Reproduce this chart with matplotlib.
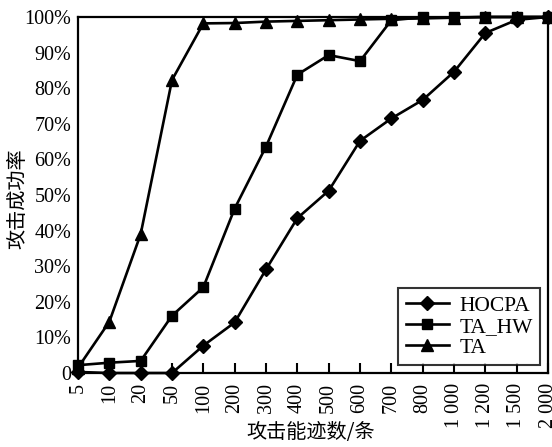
import matplotlib
matplotlib.use('Agg')
import matplotlib.pyplot as plt
from matplotlib.ticker import FuncFormatter

plt.rcParams['font.family'] = ['Liberation Serif', 'Noto Sans CJK SC']

traces = ['5', '10', '20', '50', '100', '200', '300', '400', '500', '600',
          '700', '800', '1 000', '1 200', '1 500', '2 000']
hocpa = [0.3, 0, 0, 0, 7.7, 14.2, 29.1, 43.5, 51.2, 65.2, 71.5, 76.7,
         84.6, 95.5, 99.2, 100]
ta_hw = [2.2, 2.9, 3.4, 16.1, 24.1, 46.2, 63.6, 83.8, 89.3, 87.6, 99.1,
         99.9, 99.9, 100, 100, 100]
ta = [1.5, 14.4, 39.0, 82.3, 98.2, 98.3, 98.7, 98.9, 99.1, 99.3, 99.5,
      99.6, 99.8, 100, 100, 100]

fig = plt.figure(figsize=(5.52, 4.47), dpi=100)
ax = fig.add_axes([0.1413, 0.1655, 0.8515, 0.7965])

x = range(len(traces))
ax.plot(x, hocpa, '-D', color='black', lw=1.9, ms=7, label='HOCPA', clip_on=False)
ax.plot(x, ta_hw, '-s', color='black', lw=1.9, ms=7.5, label='TA_HW', clip_on=False)
ax.plot(x, ta, '-^', color='black', lw=1.9, ms=8, label='TA', clip_on=False)

ax.set_xlim(0, len(traces) - 1)
ax.set_ylim(0, 100)
ax.set_xticks(list(x))
ax.set_xticklabels(traces, rotation=90, fontsize=14.5)
ax.set_yticks(range(0, 101, 10))
ax.yaxis.set_major_formatter(FuncFormatter(lambda v, p: '0' if v == 0 else '%d%%' % v))
ax.tick_params(axis='y', length=0, labelsize=14.5, pad=5)
ax.tick_params(axis='x', direction='in', length=7, width=1.5, pad=7)

for s in ax.spines.values():
    s.set_linewidth(1.6)

ax.set_xlabel('攻击能迹数/条', family='Noto Sans CJK SC', fontsize=14.5, va='center')
ax.xaxis.set_label_coords(0.494, -0.166)
ax.set_ylabel('攻击成功率', family='Noto Sans CJK SC', fontsize=14.5, va='center')
ax.yaxis.set_label_coords(-0.128, 0.49)

leg = ax.legend(loc='lower right', fontsize=15.5, frameon=True, fancybox=False,
                borderpad=0.35, handlelength=2.0, labelspacing=0.05,
                handletextpad=0.5, borderaxespad=0.35)
leg.get_frame().set_edgecolor('black')
leg.get_frame().set_linewidth(1.5)

fig.savefig('out.png', dpi=100)
